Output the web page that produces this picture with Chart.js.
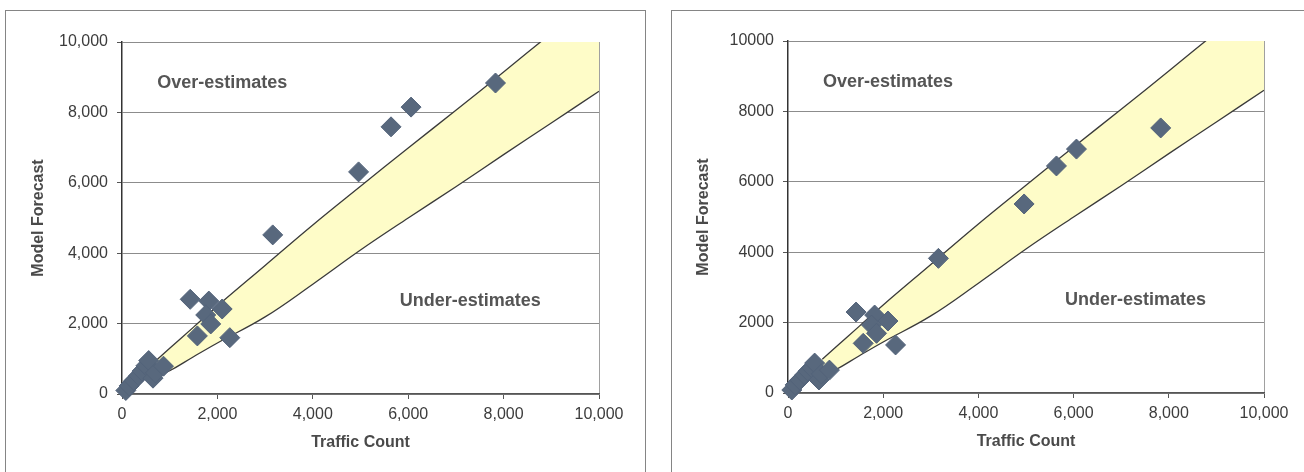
<!DOCTYPE html>
<html>
<head>
<meta charset="utf-8">
<script src="https://cdn.jsdelivr.net/npm/chart.js@4/dist/chart.umd.min.js"></script>
<style>
  html, body { margin: 0; padding: 0; background: #fff; width: 1304px; height: 472px; overflow: hidden; }
  .box { position: absolute; border: 1px solid #858585; box-sizing: border-box; background: #fff; }
  canvas { position: absolute; }
</style>
</head>
<body>
<div class="box" style="left:5px; top:10px; width:641px; height:480px;"></div>
<div class="box" style="left:671px; top:10px; width:660px; height:480px;"></div>
<canvas id="c1" width="638" height="461" style="left:6px; top:11px;"></canvas>
<canvas id="c2" width="631" height="461" style="left:673px; top:11px;"></canvas>
<script>
// ---- data ----
const trafficCount = [80, 150, 250, 350, 420, 500, 560, 650, 700, 870, 1430, 1820, 2100, 1755, 1860, 1580, 2260, 3160, 4960, 5640, 6060, 7830];
const forecastLeft = [100, 230, 380, 520, 650, 800, 950, 450, 600, 790, 2690, 2640, 2415, 2245, 1990, 1650, 1600, 4520, 6310, 7590, 8150, 8835];
const forecastRight = [85, 230, 370, 510, 620, 710, 850, 370, 540, 650, 2300, 2215, 2045, 1930, 1695, 1410, 1365, 3825, 5370, 6450, 6930, 7530];

const bandX = [720, 1000, 1500, 2000, 3000, 4000, 5000, 6000, 7000, 8000, 9000, 10000];
const bandUpper = [960, 1300, 1900, 2500, 3650, 4800, 5900, 6990, 8060, 9150, 10250, 11350];
const bandLower = [500, 660, 1060, 1450, 2190, 3120, 4090, 5000, 5890, 6800, 7700, 8600];

const axisTicks = [0, 2000, 4000, 6000, 8000, 10000];
const labelText = ['Over-estimates', 'Under-estimates'];
const labelX = [2100, 7300];
const labelY = [8830, 2640];

const xTitle = 'Traffic Count';
const yTitle = 'Model Forecast';

// ---- helpers ----
const FONT = '"Liberation Sans", Arial, sans-serif';

const annotPlugin = {
  id: 'annot',
  afterDatasetsDraw(chart) {
    const { ctx, scales: { x, y } } = chart;
    ctx.save();
    ctx.font = 'bold 18px ' + FONT;
    ctx.fillStyle = '#555555';
    ctx.textAlign = 'center';
    ctx.textBaseline = 'middle';
    labelText.forEach((t, i) => {
      ctx.fillText(t, x.getPixelForValue(labelX[i]), y.getPixelForValue(labelY[i]));
    });
    ctx.restore();
  }
};

function pts(xs, ys) { return xs.map((v, i) => ({ x: v, y: ys[i] })); }

function makeChart(id, forecast, yComma, yWidth, yTitlePad, padRight, padTop, padBottom) {
  return new Chart(document.getElementById(id), {
    type: 'line',
    data: {
      datasets: [
        {
          data: pts(trafficCount, forecast),
          showLine: false,
          pointStyle: 'rectRot',
          pointRadius: 10,
          pointHoverRadius: 10,
          pointBackgroundColor: '#58687d',
          pointBorderColor: '#53637a',
          pointBorderWidth: 1,
          clip: false
        },
        {
          data: pts(bandX, bandUpper),
          borderColor: '#3a3a3a',
          borderWidth: 1.3,
          pointRadius: 0,
          tension: 0.4,
          fill: false
        },
        {
          data: pts(bandX, bandLower),
          borderColor: '#3a3a3a',
          borderWidth: 1.3,
          pointRadius: 0,
          tension: 0.4,
          backgroundColor: '#fefcc8',
          fill: '-1'
        }
      ]
    },
    options: {
      responsive: false,
      animation: false,
      events: [],
      layout: { padding: { left: 0, right: padRight, top: padTop, bottom: padBottom } },
      plugins: { legend: { display: false }, tooltip: { enabled: false } },
      scales: {
        x: {
          type: 'linear',
          min: 0, max: 10000,
          afterBuildTicks: s => { s.ticks = axisTicks.map(v => ({ value: v })); },
          afterFit: s => { s.height = 70; },
          ticks: {
            color: '#3c3c3c',
            font: { family: FONT, size: 16 },
            padding: 6,
            maxRotation: 0,
            callback: v => v.toLocaleString('en-US')
          },
          grid: {
            color: c => (c.tick && c.tick.value === 10000) ? '#a0a0a0' : 'rgba(0,0,0,0)',
            tickColor: '#555',
            tickLength: 5,
            lineWidth: 1
          },
          border: { display: true, color: '#555', width: 1.5 },
          title: {
            display: true,
            text: xTitle,
            color: '#4a4a4a',
            font: { family: FONT, size: 16, weight: 'bold' },
            padding: { top: 0, bottom: 12 }
          }
        },
        y: {
          type: 'linear',
          min: 0, max: 10000,
          afterBuildTicks: s => { s.ticks = axisTicks.map(v => ({ value: v })); },
          afterFit: s => { s.width = yWidth; },
          ticks: {
            color: '#3c3c3c',
            font: { family: FONT, size: 16 },
            padding: 9,
            callback: v => yComma ? v.toLocaleString('en-US') : String(v)
          },
          grid: {
            color: '#8c8c8c',
            tickColor: '#555',
            tickLength: 5,
            lineWidth: 1
          },
          border: { display: true, color: '#333', width: 1.5 },
          title: {
            display: true,
            text: yTitle,
            color: '#4a4a4a',
            font: { family: FONT, size: 16, weight: 'bold' },
            padding: { top: yTitlePad, bottom: 0 }
          }
        }
      }
    },
    plugins: [annotPlugin]
  });
}

makeChart('c1', forecastLeft, true, 116, 23, 45, 31, 8);
makeChart('c2', forecastRight, false, 115, 21, 40, 30, 9);
</script>
</body>
</html>
